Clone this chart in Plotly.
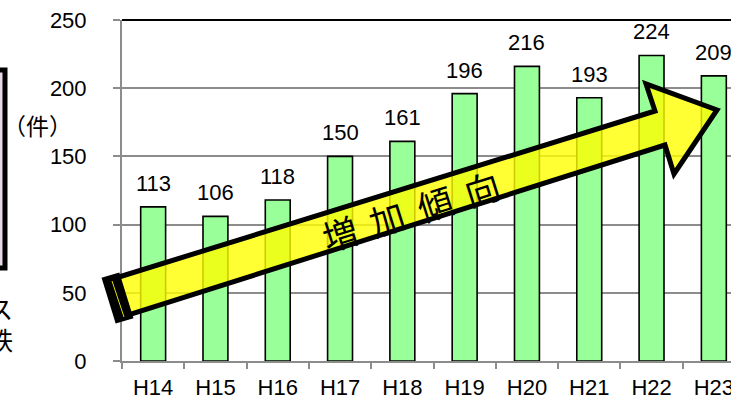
import plotly.graph_objects as go

categories = ["H14", "H15", "H16", "H17", "H18", "H19", "H20", "H21", "H22", "H23"]
counts = [113, 106, 118, 150, 161, 196, 216, 193, 224, 209]
y_ticks = [0, 50, 100, 150, 200, 250]
unit_label = "（件）"
arrow_chars = ["増", "加", "傾", "向"]

W, H = 731, 400
L, T, B = 122, 20, 39
PW = W - L
PH = H - T - B

def px(x):
    return (x - L) / PW

def py(y):
    return (H - B - y) / PH

FONT = "Liberation Sans, Arial, sans-serif"
CJK = "'Noto Sans CJK JP', 'Noto Sans CJK SC', sans-serif"

fig = go.Figure()
fig.add_trace(go.Bar(
    x=categories, y=counts,
    marker=dict(color="#99FF99", line=dict(color="#000000", width=1.6)),
    width=0.4,
))

annotations = []
for c, v in zip(categories, counts):
    annotations.append(dict(x=c, y=v, text=str(v), showarrow=False,
                            xref="x", yref="y", yanchor="bottom", yshift=9,
                            font=dict(family=FONT, size=22, color="#000")))

def paper_text(x, y, text, size, angle=0):
    return dict(x=px(x), y=py(y), xref="paper", yref="paper", text=text,
                showarrow=False, xanchor="center", yanchor="middle", textangle=angle,
                font=dict(family=CJK, size=size, color="#000"))

annotations.append(paper_text(37, 125, unit_label, 23))
annotations.append(paper_text(0, 308, "ス", 25))
annotations.append(paper_text(0, 339, "鉄", 25))

x_start, y_start, step = 339, 232, 47.5
for i, ch in enumerate(arrow_chars):
    cx = x_start + i * step
    cy = y_start - i * step * 0.314
    annotations.append(paper_text(cx, cy, ch, 35, angle=-17.5))

def path(points):
    return "M " + " L ".join(f"{px(a):.5f},{py(b):.5f}" for a, b in points) + " Z"

arrow_pts = [(106, 281), (655, 111), (646, 84), (717, 110), (674, 174), (665, 145), (119, 318)]
cap_pts = [(104, 279), (117, 321), (131, 317), (118, 275)]

shapes = [
    dict(type="line", xref="paper", yref="paper", x0=0, x1=1.01, y0=1, y1=1,
         line=dict(color="#000", width=2), layer="above"),
    dict(type="rect", xref="paper", yref="paper", x0=px(-20), x1=px(5), y0=py(268), y1=py(70),
         line=dict(color="#000", width=5), fillcolor="#E6D8E6", layer="above"),
    dict(type="path", xref="paper", yref="paper", path=path(arrow_pts),
         line=dict(color="#000", width=5), fillcolor="rgba(255,255,0,0.8)", layer="above"),
    dict(type="path", xref="paper", yref="paper", path=path(cap_pts),
         line=dict(color="#000", width=4), fillcolor="#000", layer="above"),
    dict(type="line", xref="paper", yref="paper", x0=px(112), y0=py(281), x1=px(124), y1=py(317),
         line=dict(color="#DDDD00", width=1), layer="above"),
]

fig.update_layout(
    width=W, height=H,
    margin=dict(l=L, r=0, t=T, b=B, autoexpand=False),
    paper_bgcolor="#FFFFFF", plot_bgcolor="#FFFFFF",
    showlegend=False,
    annotations=annotations,
    shapes=shapes,
    font=dict(family=FONT, size=22, color="#000"),
    xaxis=dict(type="category", range=[-0.5, -0.5 + PW / 62.3],
               showline=True, linecolor="#8C8C8C", linewidth=2,
               ticks="outside", tickson="boundaries", ticklen=6, tickcolor="#8C8C8C", tickwidth=2,
               showgrid=False, ticklabelstandoff=6,
               tickfont=dict(family=FONT, size=22, color="#000"),
               automargin=False, fixedrange=True),
    yaxis=dict(range=[0, 250], tickvals=y_ticks,
               showline=True, linecolor="#8C8C8C", linewidth=2,
               ticks="outside", ticklen=7, tickcolor="#8C8C8C", tickwidth=2,
               showgrid=True, gridcolor="#8C8C8C", gridwidth=1.5,
               zeroline=False, ticklabelstandoff=22,
               tickfont=dict(family=FONT, size=22, color="#000"),
               automargin=False, fixedrange=True),
)

fig.write_html("out.html", config={"displayModeBar": False})
